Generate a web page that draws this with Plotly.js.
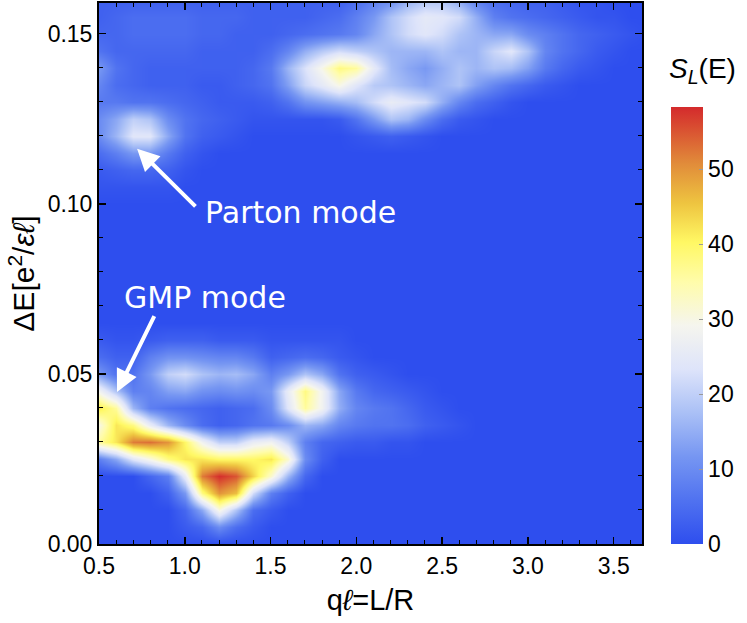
<!DOCTYPE html>
<html>
<head>
<meta charset="utf-8">
<script src="https://cdn.plot.ly/plotly-3.0.1.min.js"></script>
<style>html,body{margin:0;padding:0;background:#fff;}#chart{width:747px;height:623px;}</style>
</head>
<body>
<div id="chart"></div>
<script>
// q l = L/R grid (columns)
const qValues = [0.5,0.6,0.7,0.8,0.9,1.0,1.1,1.2,1.3,1.4,1.5,1.6,1.7,1.8,1.9,2.0,2.1,2.2,2.3,2.4,2.5,2.6,2.7,2.8,2.9,3.0,3.1,3.2,3.3,3.4,3.5,3.6,3.7];
// Delta E grid (rows)
const energyValues = [0,0.005,0.01,0.015,0.02,0.025,0.03,0.035,0.04,0.045,0.05,0.055,0.06,0.065,0.07,0.075,0.08,0.085,0.09,0.095,0.1,0.105,0.11,0.115,0.12,0.125,0.13,0.135,0.14,0.145,0.15,0.155,0.16];
// S_L(E) values, one row per energy
const row00 = [0,0,0,0,0,0,0,0,0,0,0,0,0,0,0,0,0,0,0,0,0,0,0,0,0,0,0,0,0,0,0,0,0];
const row01 = [0,0,0,0,0,2,4,10,5,2,0,0,0,0,0,0,0,0,0,0,0,0,0,0,0,0,0,0,0,0,0,0,0];
const row02 = [0,0,0,0,0,4,14,30,18,5,2,0,0,0,0,0,0,0,0,0,0,0,0,0,0,0,0,0,0,0,0,0,0];
const row03 = [0,0,0,0,3,12,38,50,46,22,8,3,0,0,0,0,0,0,0,0,0,0,0,0,0,0,0,0,0,0,0,0,0];
const row04 = [0,0,0,4,8,26,52,58,55,44,32,16,4,0,0,0,0,0,0,0,0,0,0,0,0,0,0,0,0,0,0,0,0];
const row05 = [8,14,24,30,38,42,42,40,40,40,42,32,10,3,0,0,0,0,0,0,0,0,0,0,0,0,0,0,0,0,0,0,0];
const row06 = [36,42,52,53,50,40,28,20,20,26,28,20,8,4,3,2,2,1,1,0,0,0,0,0,0,0,0,0,0,0,0,0,0];
const row07 = [30,42,38,26,16,10,5,3,4,6,7,10,16,14,9,7,6,6,5,3,2,1,0,0,0,0,0,0,0,0,0,0,0];
const row08 = [42,36,16,8,6,5,4,3,4,5,10,24,36,28,15,9,7,6,4,2,1,0,0,0,0,0,0,0,0,0,0,0,0];
const row09 = [28,18,8,9,13,14,11,10,11,10,12,26,38,28,14,7,4,3,2,1,0,0,0,0,0,0,0,0,0,0,0,0,0];
const row10 = [12,6,6,12,20,22,18,16,17,14,8,12,18,14,6,3,2,1,0,0,0,0,0,0,0,0,0,0,0,0,0,0,0];
const row11 = [5,3,3,8,11,11,10,9,9,7,3,4,5,4,2,1,0,0,0,0,0,0,0,0,0,0,0,0,0,0,0,0,0];
const row12 = [2,1,1,2,3,3,3,2,2,2,1,1,1,1,1,0,0,0,0,0,0,0,0,0,0,0,0,0,0,0,0,0,0];
const row13 = [0,0,0,0,0,0,0,0,0,0,0,0,0,0,0,0,0,0,0,0,0,0,0,0,0,0,0,0,0,0,0,0,0];
const row14 = [0,0,0,0,0,0,0,0,0,0,0,0,0,0,0,0,0,0,0,0,0,0,0,0,0,0,0,0,0,0,0,0,0];
const row15 = [0,0,0,0,0,0,0,0,0,0,0,0,0,0,0,0,0,0,0,0,0,0,0,0,0,0,0,0,0,0,0,0,0];
const row16 = [0,0,0,0,0,0,0,0,0,0,0,0,0,0,0,0,0,0,0,0,0,0,0,0,0,0,0,0,0,0,0,0,0];
const row17 = [0,0,0,0,0,0,0,0,0,0,0,0,0,0,0,0,0,0,0,0,0,0,0,0,0,0,0,0,0,0,0,0,0];
const row18 = [0,0,0,0,0,0,0,0,0,0,0,0,0,0,0,0,0,0,0,0,0,0,0,0,0,0,0,0,0,0,0,0,0];
const row19 = [0,0,0,0,0,0,0,0,0,0,0,0,0,0,0,0,0,0,0,0,0,0,0,0,0,0,0,0,0,0,0,0,0];
const row20 = [0,0,0,0,0,0,0,0,0,0,0,0,0,0,0,0,0,0,0,0,0,0,0,0,0,0,0,0,0,0,0,0,0];
const row21 = [1,1,1,1,1,0,0,0,0,0,0,0,0,0,0,0,0,0,0,0,0,0,0,0,0,0,0,0,0,0,0,0,0];
const row22 = [2,3,4,4,3,1,0,0,0,0,0,0,0,0,0,0,0,0,0,0,0,0,0,0,0,0,0,0,0,0,0,0,0];
const row23 = [5,8,12,12,7,3,1,0,0,0,0,0,0,0,0,0,0,0,0,0,0,0,0,0,0,0,0,0,0,0,0,0,0];
const row24 = [10,16,24,24,14,6,3,2,1,0,0,0,0,0,0,1,2,3,2,1,0,0,0,0,0,0,0,0,0,0,0,0,0];
const row25 = [10,14,20,18,10,6,4,3,2,1,1,1,1,1,2,6,12,18,16,10,5,2,1,0,0,0,0,0,0,0,0,0,0];
const row26 = [7,7,6,6,5,4,3,2,2,2,3,6,11,13,15,17,22,26,24,22,15,9,5,3,1,0,0,0,0,0,0,0,0];
const row27 = [9,5,4,3,3,3,2,2,3,4,6,13,21,25,30,24,19,18,16,14,16,18,13,9,6,4,2,1,0,0,0,0,0];
const row28 = [12,6,4,3,3,3,3,3,3,4,7,16,23,30,38,36,25,17,14,12,15,18,16,18,17,13,7,4,2,1,0,0,0];
const row29 = [6,4,4,4,4,4,3,3,3,3,5,9,15,19,22,20,18,16,16,16,18,16,16,21,24,18,9,6,4,2,1,0,0];
const row30 = [4,4,5,5,5,5,4,4,3,3,3,4,5,6,7,9,14,18,22,24,22,18,16,14,14,10,8,6,4,3,2,1,0];
const row31 = [3,4,5,5,5,5,4,4,4,3,3,3,3,4,5,8,12,18,22,25,24,22,15,8,6,5,4,3,2,1,1,0,0];
const row32 = [3,3,3,3,3,3,3,3,3,3,3,3,3,3,3,5,8,10,15,18,18,14,8,5,4,3,3,2,1,1,0,0,0];
const sValues = [row00,row01,row02,row03,row04,row05,row06,row07,row08,row09,row10,row11,row12,row13,row14,row15,row16,row17,row18,row19,row20,row21,row22,row23,row24,row25,row26,row27,row28,row29,row30,row31,row32];
const colorTicks = [0,10,20,30,40,50];

const colorscale = [
  [0.00,'rgb(46,78,238)'],
  [0.10,'rgb(80,114,240)'],
  [0.20,'rgb(118,150,242)'],
  [0.30,'rgb(170,192,246)'],
  [0.40,'rgb(222,228,250)'],
  [0.50,'rgb(245,245,238)'],
  [0.60,'rgb(255,252,170)'],
  [0.69,'rgb(255,248,100)'],
  [0.78,'rgb(238,196,64)'],
  [0.87,'rgb(225,140,58)'],
  [1.00,'rgb(212,42,44)']
];

const trace = {
  type:'heatmap', x:qValues, y:energyValues, z:sValues,
  zsmooth:'best', zmin:0, zmax:58.3, colorscale:colorscale,
  colorbar:{
    x:1.0534, xanchor:'left', xpad:0, y:0, yanchor:'bottom', ypad:0,
    thickness:32, len:437, lenmode:'pixels', outlinewidth:0,
    tickvals:colorTicks, ticks:'inside', ticklen:4, tickcolor:'#999',
    tickfont:{family:'Liberation Sans, Arial, sans-serif', size:23, color:'#000'}
  },
  hoverinfo:'skip'
};

const axisFont = {family:'Liberation Sans, Arial, sans-serif', size:23, color:'#000'};
const layout = {
  width:747, height:623,
  margin:{l:99, r:105, t:3, b:79},
  paper_bgcolor:'#fff', plot_bgcolor:'#fff',
  xaxis:{range:[0.5,3.665], tickvals:[0.5,1.0,1.5,2.0,2.5,3.0,3.5], tickformat:'.1f',
    ticks:'inside', ticklen:7, tickwidth:1.5, tickcolor:'#000',
    minor:{dtick:0.1, tick0:0.5, ticks:'inside', ticklen:4, tickwidth:1, tickcolor:'#000'},
    showline:true, linecolor:'#000', linewidth:2, mirror:'ticks', showgrid:false, zeroline:false,
    tickfont:axisFont,
    title:{text:'q<i>ℓ</i>=L/R', font:{family:'Liberation Sans, Arial, sans-serif', size:29, color:'#000'}, standoff:12}
  },
  yaxis:{range:[0,0.159], tickvals:[0,0.05,0.10,0.15], tickformat:'.2f',
    ticks:'inside', ticklen:7, tickwidth:1.5, tickcolor:'#000',
    minor:{dtick:0.01, tick0:0, ticks:'inside', ticklen:4, tickwidth:1, tickcolor:'#000'},
    showline:true, linecolor:'#000', linewidth:2, mirror:'ticks', showgrid:false, zeroline:false,
    tickfont:axisFont,
    title:{text:'ΔE[e<sup>2</sup>/<i>εℓ</i>]', font:{family:'Liberation Sans, Arial, sans-serif', size:30, color:'#000'}, standoff:4}
  },
  annotations:[
    {xref:'paper', yref:'paper', x:1.046, y:0.876, xanchor:'left', yanchor:'middle', showarrow:false,
     text:'<i>S<sub>L</sub></i>(E)', font:{family:'Liberation Sans, Arial, sans-serif', size:28, color:'#000'}},
    {xref:'x', yref:'y', x:1.106, y:0.0974, xanchor:'left', yanchor:'middle', showarrow:false,
     text:'Parton mode', font:{family:'DejaVu Sans, sans-serif', size:30, color:'#fff'}},
    {xref:'x', yref:'y', x:0.634, y:0.0724, xanchor:'left', yanchor:'middle', showarrow:false,
     text:'GMP mode', font:{family:'DejaVu Sans, sans-serif', size:30, color:'#fff'}},
    {xref:'x', yref:'y', axref:'x', ayref:'y', x:0.722, y:0.1162, ax:1.071, ay:0.0988, text:'',
     showarrow:true, arrowhead:2, arrowsize:1.1, arrowwidth:4, arrowcolor:'#fff', standoff:0, startstandoff:0},
    {xref:'x', yref:'y', axref:'x', ayref:'y', x:0.605, y:0.0447, ax:0.8265, ay:0.0674, text:'',
     showarrow:true, arrowhead:2, arrowsize:1.1, arrowwidth:4, arrowcolor:'#fff', standoff:0, startstandoff:0}
  ]
};

Plotly.newPlot('chart', [trace], layout, {displayModeBar:false, staticPlot:true});
</script>
</body>
</html>
